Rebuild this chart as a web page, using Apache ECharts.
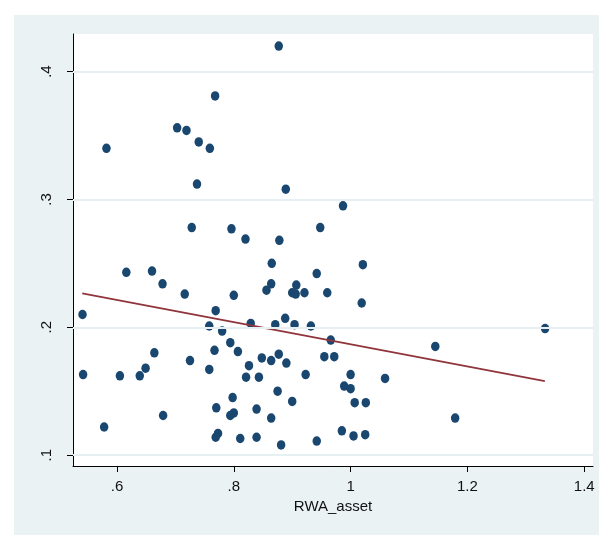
<!DOCTYPE html>
<html>
<head>
<meta charset="utf-8">
<script src="https://cdn.jsdelivr.net/npm/echarts@6/dist/echarts.min.js"></script>
<style>
html, body { margin: 0; padding: 0; background: #fff; }
#main { width: 599px; height: 535px; }
</style>
</head>
<body>
<div id="main"></div>
<script>
// scatter points: RWA_asset (x) and the y variable
var rwaX = [0.877, 0.768, 0.703, 0.719, 0.740, 0.759, 0.582, 0.737, 0.889, 0.987,
  0.728, 0.796, 0.948, 0.820, 0.878, 0.865, 1.021, 0.616, 0.660, 0.942,
  0.678, 0.864, 0.907, 0.856, 0.716, 0.800, 0.900, 0.906, 0.921, 0.960,
  1.019, 0.541, 0.769, 0.888, 0.758, 0.829, 0.871, 0.904, 0.932, 1.333,
  0.780, 0.966, 0.794, 0.767, 0.807, 0.664, 0.877, 1.145, 0.955, 0.972,
  0.725, 0.848, 0.864, 0.890, 0.826, 0.649, 0.758, 0.542, 0.605, 0.639,
  0.923, 1.000, 0.821, 0.843, 1.059, 0.989, 1.000, 0.875, 0.798, 0.900,
  1.007, 1.026, 0.770, 0.839, 0.679, 0.800, 0.794, 0.864, 1.179, 0.578,
  0.985, 0.773, 0.769, 0.811, 0.839, 0.881, 0.942, 1.005, 1.025];
var yVal = [0.420, 0.381, 0.356, 0.354, 0.345, 0.340, 0.340, 0.312, 0.308, 0.295,
  0.278, 0.277, 0.278, 0.269, 0.268, 0.250, 0.249, 0.243, 0.244, 0.242,
  0.234, 0.234, 0.233, 0.229, 0.226, 0.225, 0.227, 0.226, 0.227, 0.227,
  0.219, 0.210, 0.213, 0.207, 0.201, 0.203, 0.202, 0.202, 0.201, 0.199,
  0.197, 0.190, 0.188, 0.182, 0.181, 0.180, 0.179, 0.185, 0.177, 0.177,
  0.174, 0.176, 0.174, 0.172, 0.170, 0.168, 0.167, 0.163, 0.162, 0.162,
  0.163, 0.163, 0.161, 0.161, 0.160, 0.154, 0.152, 0.150, 0.145, 0.142,
  0.141, 0.141, 0.137, 0.136, 0.131, 0.133, 0.131, 0.129, 0.129, 0.122,
  0.119, 0.117, 0.114, 0.113, 0.114, 0.108, 0.111, 0.115, 0.116];

// fitted line end points
var fitX = [0.5405, 1.3326];
var fitY = [0.2265, 0.1579];

// tick labels
var xTicks = [0.6, 0.8, 1.0, 1.2, 1.4];
var yTicks = [0.1, 0.2, 0.3, 0.4];

var fmt = function(v) {
  var s = (Math.round(v * 10) / 10).toString();
  return s.replace(/^0\./, ".");
};

var pts = [];
for (var i = 0; i < rwaX.length; i++) pts.push([rwaX[i], yVal[i]]);
var fit = [];
for (var j = 0; j < fitX.length; j++) fit.push([fitX[j], fitY[j]]);

var chart = echarts.init(document.getElementById("main"));
chart.setOption({
  animation: false,
  backgroundColor: "#ffffff",
  graphic: [{
    type: "rect",
    left: 14, top: 15, z: -10,
    shape: { width: 585, height: 520 },
    style: { fill: "#eaf2f3" },
    silent: true
  }],
  grid: {
    left: 73, top: 34, right: 6, bottom: 69,
    show: true, backgroundColor: "#ffffff", borderWidth: 0
  },
  xAxis: {
    type: "value",
    min: 0.5247, max: 1.415,
    name: "RWA_asset",
    nameLocation: "middle",
    nameGap: 32,
    nameTextStyle: { fontFamily: "Liberation Sans", fontSize: 15, color: "#111" },
    axisLine: { onZero: false, lineStyle: { color: "#000", width: 1 } },
    axisTick: { show: true, length: 6, customValues: xTicks, lineStyle: { color: "#000" } },
    axisLabel: {
      customValues: xTicks, formatter: fmt, margin: 13,
      fontFamily: "Liberation Sans", fontSize: 15, color: "#111"
    },
    splitLine: { show: false }
  },
  yAxis: {
    type: "value",
    min: 0.0915, max: 0.4294,
    axisLine: { show: true, onZero: false, lineStyle: { color: "#000", width: 1 } },
    axisTick: { show: true, length: 6, customValues: yTicks, lineStyle: { color: "#000" } },
    axisLabel: {
      customValues: yTicks, formatter: fmt, rotate: 90, margin: 19,
      fontFamily: "Liberation Sans", fontSize: 15, color: "#111"
    },
    splitLine: { show: false }
  },
  series: [{
    type: "line",
    data: [],
    silent: true,
    markLine: {
      silent: true,
      symbol: "none",
      label: { show: false },
      lineStyle: { color: "#e6eff1", width: 2, type: "solid" },
      data: yTicks.map(function(v) { return { yAxis: v }; })
    },
    z: 1
  }, {
    type: "scatter",
    data: pts,
    symbol: "circle",
    symbolSize: [8.5, 9.5],
    itemStyle: { color: "#1a476f", opacity: 1 },
    z: 3
  }, {
    type: "line",
    data: fit,
    symbol: "none",
    lineStyle: { color: "#90353b", width: 1.8 },
    z: 4
  }]
});
</script>
</body>
</html>
